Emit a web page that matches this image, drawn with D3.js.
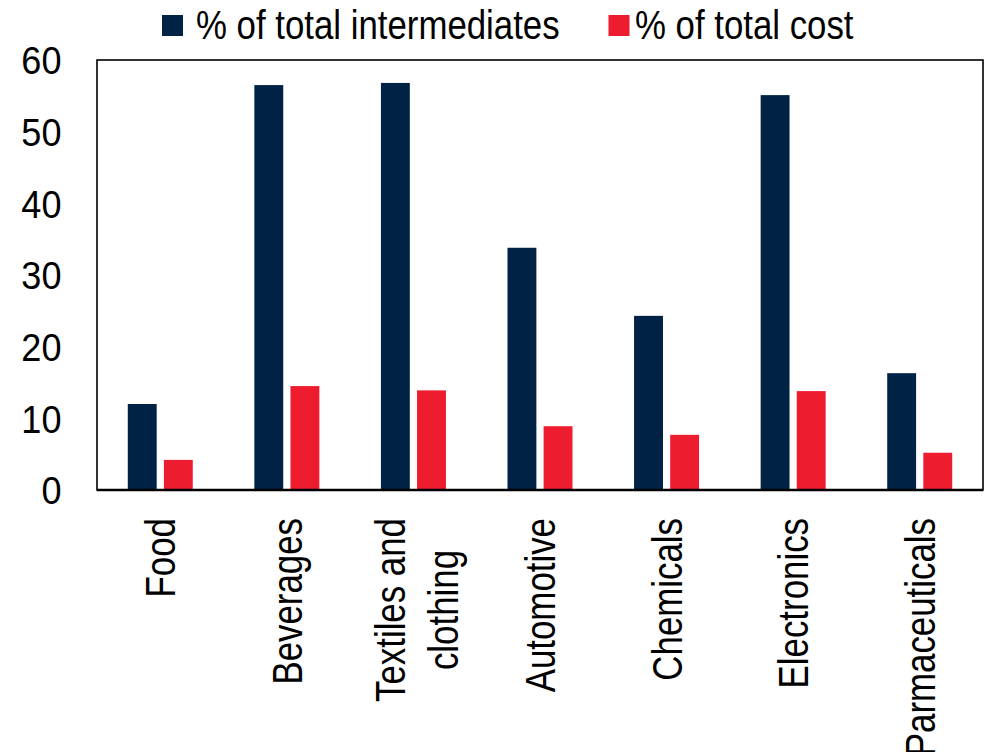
<!DOCTYPE html>
<html>
<head>
<meta charset="utf-8">
<script src="https://cdn.jsdelivr.net/npm/d3@7"></script>
<style>
  html, body { margin: 0; padding: 0; background: #fff; }
  svg { display: block; }
  text { font-family: "Liberation Sans", Arial, sans-serif; fill: #000; }
</style>
</head>
<body>
<svg id="chart" width="987" height="752"></svg>
<script>
// Sectors and their share of imported inputs
const categories = ["Food", "Beverages", "Textiles and clothing", "Automotive", "Chemicals", "Electronics", "Parmaceuticals"];
const categoryLines = [["Food"], ["Beverages"], ["Textiles and", "clothing"], ["Automotive"], ["Chemicals"], ["Electronics"], ["Parmaceuticals"]];
const seriesNames = ["% of total intermediates", "% of total cost"];
const intermediates = [12.0, 56.5, 56.8, 33.8, 24.3, 55.1, 16.3];
const totalCost = [4.2, 14.5, 13.9, 8.9, 7.7, 13.8, 5.2];
const yTicks = [0, 10, 20, 30, 40, 50, 60];
const colors = ["#002244", "#ED1C2E"];

const svg = d3.select("#chart");
const margin = { top: 60, right: 4, bottom: 262, left: 97 };
const width = 987 - margin.left - margin.right;
const height = 752 - margin.top - margin.bottom;

const g = svg.append("g").attr("transform", `translate(${margin.left},${margin.top})`);

const x0 = d3.scaleBand().domain(categories).range([0, width]).paddingInner(0).paddingOuter(0);
const x1 = d3.scaleBand().domain(seriesNames).range([0, 65]).paddingInner(0.2).paddingOuter(0);
const y = d3.scaleLinear().domain([0, 60]).range([height, 0]);

const data = categories.map((c, i) => ({ cat: c, values: [intermediates[i], totalCost[i]] }));

// Bars, one pair per sector
const groups = g.selectAll("g.group").data(data).join("g")
  .attr("class", "group")
  .attr("transform", d => `translate(${x0(d.cat) + x0.bandwidth() / 2 - 32.5},0)`);

groups.selectAll("rect").data(d => d.values.map((v, k) => ({ key: seriesNames[k], v, k })))
  .join("rect")
  .attr("x", d => x1(d.key))
  .attr("width", x1.bandwidth())
  .attr("y", d => y(d.v))
  .attr("height", d => height - y(d.v))
  .attr("fill", d => colors[d.k]);

// Frame around the plot area
g.append("rect")
  .attr("x", 0).attr("y", 0).attr("width", width).attr("height", height)
  .attr("fill", "none").attr("stroke", "#000").attr("stroke-width", 1.6);
g.append("line")
  .attr("x1", 0).attr("x2", width).attr("y1", height).attr("y2", height)
  .attr("stroke", "#000").attr("stroke-width", 2.6);

// Y axis labels
const yAxis = g.append("g").call(d3.axisLeft(y).tickValues(yTicks).tickSize(0));
yAxis.select(".domain").remove();
yAxis.selectAll("text")
  .attr("x", 0)
  .attr("dy", "0.36em")
  .attr("text-anchor", "end")
  .attr("transform", "translate(-35.5,0) scale(0.95,1)")
  .style("font-size", "38px")
  .style("font-family", "'Liberation Sans', Arial, sans-serif");

// Category labels, rotated; wrapped lines are centred on each other
const labels = g.append("g").attr("transform", `translate(0,${height})`);
labels.selectAll("text").data(categories).join("text")
  .attr("transform", d => `translate(${x0(d) + x0.bandwidth() / 2},28) rotate(-90) scale(0.83,1)`)
  .style("font-size", "42px")
  .each(function (d, i) {
    const lines = categoryLines[i];
    const t = d3.select(this);
    if (lines.length === 1) {
      t.attr("text-anchor", "end");
      t.append("tspan").attr("x", 0).attr("dy", "0.36em").text(lines[0]);
      return;
    }
    t.attr("text-anchor", "middle");
    const spans = lines.map((ln, j) => t.append("tspan")
      .attr("dy", j === 0 ? "-0.2em" : "1.25em")
      .text(ln));
    const maxLen = d3.max(spans, s => s.node().getComputedTextLength());
    spans.forEach(s => s.attr("x", -maxLen / 2));
  });

// Legend
const legend = svg.append("g");
const legendSwatchX = [162, 608.5];
const legendTextX = [196, 635];
seriesNames.forEach((name, i) => {
  legend.append("rect")
    .attr("x", legendSwatchX[i]).attr("y", 15).attr("width", 21).attr("height", 21)
    .attr("fill", colors[i]);
  legend.append("text")
    .attr("transform", `translate(${legendTextX[i]},38.5) scale(0.87,1)`)
    .style("font-size", "40px")
    .text(name);
});
</script>
</body>
</html>
